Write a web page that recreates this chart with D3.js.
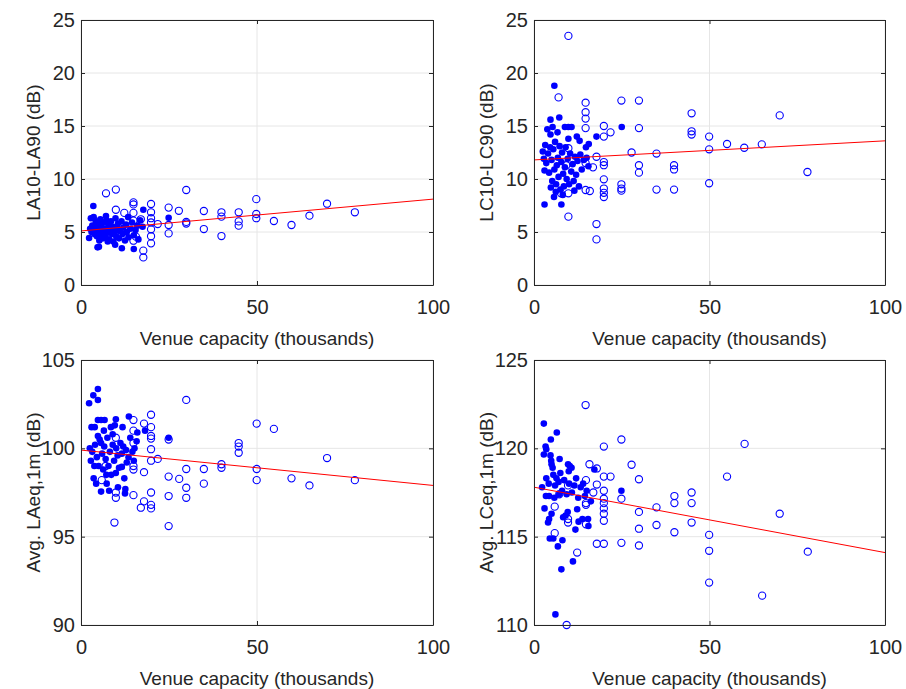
<!DOCTYPE html>
<html>
<head>
<meta charset="utf-8">
<script src="https://cdn.jsdelivr.net/npm/d3@7"></script>
<style>
  body { margin: 0; background: #fff; }
  svg text { font-family: Arial, "Liberation Sans", Helvetica, sans-serif; fill: #262626; }
</style>
</head>
<body>
<div id="vis"></div>
<script>
// x = venue capacity (thousands), y = level spread / average level (dB)
var xTicks = [0, 50, 100];

// LA10-LA90
var filledLA = [[3.5,7.45],[2.8,6.3],[2.3,4.43],[4.7,3.55],[11.6,3.46],[15,3.4],[17.7,7.1],[24.9,6.35],[3,5.0],[3.2,5.6],[3.8,4.8],[4.0,5.3],[4.2,6.0],[4.5,4.6],[4.8,5.8],[5.0,5.1],[5.2,4.2],[5.5,6.2],[5.8,5.5],[6.0,4.9],[6.2,4.4],[6.5,5.9],[6.8,5.3],[7.0,4.7],[7.2,6.1],[7.5,5.0],[7.8,5.6],[8.0,4.3],[8.2,5.2],[8.5,6.0],[8.8,4.8],[9.0,5.5],[9.2,4.1],[9.5,5.0],[9.8,6.3],[10.0,4.6],[10.2,5.4],[10.5,5.8],[10.8,4.4],[11.0,5.1],[11.5,6.0],[11.8,4.8],[12.0,5.4],[12.5,4.2],[12.8,5.7],[13.0,5.0],[13.5,4.5],[14.0,5.3],[14.5,5.9],[15.0,4.7],[15.5,5.2],[16.0,5.6],[16.3,4.3],[16.8,6.1],[3.6,6.4],[4.4,5.5],[5.6,4.5],[6.4,5.0],[7.6,4.1],[2.6,5.3],[5.1,3.6],[9.7,3.8],[13.4,6.4],[7.1,6.5],[17.5,5.5]];
var openLA = [[7.1,8.65],[9.9,9.0],[9.9,7.1],[12.3,6.8],[14.9,7.6],[14.9,7.8],[14.9,6.8],[14.9,6.07],[15.6,4.56],[14.9,4.18],[17,6.2],[17.7,3.24],[17.7,2.6],[19.9,7.64],[19.9,6.86],[19.9,6.3],[19.9,5.9],[19.9,5.25],[19.9,4.6],[19.9,3.93],[21.8,5.75],[24.9,7.3],[24.9,5.66],[24.9,4.87],[27.8,7.0],[29.9,8.96],[29.9,5.8],[29.9,5.95],[34.9,6.98],[34.9,5.28],[39.9,6.86],[39.9,6.45],[39.9,4.62],[44.8,6.86],[44.8,6.0],[44.8,5.6],[49.8,8.1],[49.8,6.7],[49.8,6.3],[54.8,6.04],[59.8,5.66],[64.9,6.54],[69.9,7.67],[77.8,6.86]];
var fitLA = [5.1, 8.1];

// LC10-LC90
var filledLC = [[5.8,18.8],[3.0,7.6],[7.8,7.6],[5.7,8.3],[25.0,14.9],[17.8,14.0],[15.6,13.3],[4.7,15.6],[7.2,15.8],[3.8,14.7],[4.7,14.2],[6.7,14.4],[8.8,14.9],[9.8,14.9],[10.7,14.9],[9.8,13.8],[12.2,14.0],[2.5,12.6],[3.2,13.2],[3.5,11.5],[4.0,12.4],[4.3,10.6],[4.6,13.0],[5.0,11.8],[5.2,9.8],[5.5,12.8],[5.8,10.9],[6.0,13.5],[6.3,9.5],[6.5,11.3],[6.8,12.0],[7.0,10.2],[7.3,13.1],[7.5,9.0],[7.8,11.6],[8.0,12.5],[8.3,10.5],[8.5,9.3],[8.8,11.1],[9.0,13.0],[9.3,10.0],[9.6,11.9],[10.0,9.5],[10.3,12.4],[10.6,10.7],[11.0,11.4],[11.3,9.8],[11.7,12.1],[12.0,10.4],[12.4,11.7],[12.8,9.3],[13.2,12.3],[13.6,10.9],[14.2,11.8],[15.0,12.0],[15.5,11.2],[14.8,13.0],[3.0,10.8],[4.8,9.2],[6.2,8.8],[8.2,8.5],[11.5,8.9],[13.0,13.6],[2.8,11.9],[5.3,14.9]];
var openLC = [[9.8,23.5],[7.0,17.7],[14.7,17.2],[14.7,16.3],[14.7,15.7],[14.7,14.8],[9.8,12.9],[14.7,11.5],[14.7,8.96],[15.9,8.87],[9.8,8.65],[7.7,8.65],[9.8,6.45],[9.2,11.3],[17.8,12.1],[16.8,11.1],[17.8,5.75],[17.8,4.3],[19.9,15.0],[19.9,14.0],[21.8,14.4],[19.9,11.6],[19.9,11.3],[19.9,9.97],[19.9,9.1],[19.9,8.7],[19.9,8.3],[24.9,17.4],[24.9,9.5],[24.9,9.1],[24.9,8.9],[27.8,12.5],[29.9,17.4],[29.9,14.8],[29.9,11.3],[29.9,10.6],[34.9,12.4],[34.9,9.0],[39.9,11.3],[39.9,10.9],[39.9,9.0],[44.9,16.2],[44.9,14.5],[44.9,14.2],[49.9,14.0],[49.9,12.8],[49.9,9.6],[55,13.3],[59.9,12.95],[64.9,13.27],[70,16.0],[77.9,10.66]];
var fitLC = [11.8, 13.6];

// Avg. LAeq,1m
var filledLAeq = [[4.8,103.36],[3.5,103.0],[4.8,102.74],[2.3,102.55],[3,101.2],[3.9,101.2],[4.8,101.6],[5.7,101.6],[6.7,101.6],[9.9,101.65],[13.6,101.8],[11.8,101.2],[8.5,101.2],[9,100.8],[18.2,101.0],[24.9,100.6],[15.8,100.4],[4.8,100.7],[5.7,100.3],[2.8,99.3],[3.6,98.3],[4.3,98.0],[5.7,97.55],[7.3,98.0],[12.5,97.45],[12.6,97.7],[9.9,98.6],[12.3,98.3],[11.6,98.95],[13,99.2],[2.5,100.0],[3.2,99.8],[4.0,100.2],[4.5,99.5],[5.0,99.0],[5.3,100.5],[6.0,99.7],[6.3,98.8],[6.6,100.1],[7.0,99.4],[7.5,100.6],[7.8,99.0],[8.2,99.8],[8.6,98.5],[9.0,100.2],[9.4,99.3],[10.0,100.0],[10.4,99.6],[10.8,98.9],[11.2,100.3],[11.6,99.7],[12.0,100.1],[12.8,99.9],[13.5,99.5],[14.0,100.6],[14.6,99.8],[15.2,100.0],[16.0,100.9],[6.5,101.0],[3.8,99.0],[8.0,97.6],[10.5,97.8],[15.0,99.3],[9.6,101.3],[7.2,98.5]];
var openLAeq = [[29.9,102.74],[19.9,101.9],[14.9,101.6],[17.9,101.4],[19.9,101.2],[19.9,100.7],[14.9,101.0],[9.9,100.6],[19.9,100.55],[24.9,100.5],[14.9,100.3],[19.9,99.95],[21.8,99.4],[19.9,99.3],[14.9,99.0],[14.9,98.8],[7,99.0],[29.9,98.83],[34.9,98.83],[39.9,99.1],[39.9,98.9],[17.9,98.65],[24.9,98.4],[27.9,98.27],[34.9,98.0],[29.9,97.77],[19.9,97.5],[9.9,97.5],[9.9,97.2],[14.9,97.35],[24.9,97.3],[29.9,97.2],[17.9,97.0],[17,96.64],[19.9,96.8],[19.9,96.6],[9.5,95.8],[24.9,95.6],[5.9,98.2],[44.8,100.3],[44.8,100.1],[44.8,99.75],[49.9,101.4],[54.8,101.1],[49.9,98.83],[49.9,98.2],[59.8,98.3],[64.9,97.9],[69.9,99.45],[77.8,98.2]];
var fitLAeq = [99.9, 97.9];

// Avg. LCeq,1m
var filledLCeq = [[2.8,121.4],[6.5,120.9],[4.8,120.5],[3.3,120.1],[3.5,119.95],[2.8,119.65],[4.7,119.6],[4.9,119.3],[5.0,119.1],[5.3,118.9],[9.7,119.1],[10.2,119.0],[10.7,118.9],[9.9,118.7],[2.3,117.8],[24.9,117.6],[3.4,117.3],[4.3,117.3],[4.3,116.0],[4.0,115.8],[8.3,116.1],[9.0,116.2],[12.3,116.55],[12.7,115.85],[15.4,116.0],[4.5,114.9],[5.5,114.9],[8.1,114.8],[6.8,114.45],[11.1,113.6],[7.8,113.15],[6.1,110.6],[3.5,118.3],[4.2,118.0],[5.5,118.5],[6.0,117.9],[6.4,118.3],[7.0,118.1],[7.5,118.6],[8.0,117.6],[8.6,118.2],[9.3,117.4],[10.0,118.0],[10.8,117.5],[11.5,117.9],[12.0,118.3],[12.6,117.2],[13.3,117.8],[14.0,118.0],[14.5,117.3],[15.0,117.6],[16.2,117.0],[5.8,117.2],[7.2,117.4],[9.6,116.4],[13.8,116.0],[15.5,115.6],[5.0,116.3],[11.8,115.4],[3.0,116.6],[17.2,118.8],[7.3,119.4]];
var openLCeq = [[14.7,122.45],[24.9,120.5],[19.9,120.1],[27.8,119.07],[15.8,119.1],[17.9,118.86],[19.9,118.4],[21.8,118.4],[29.9,118.25],[14.8,118.2],[17.9,117.95],[16.9,117.5],[19.9,117.6],[24.9,117.15],[19.9,117.15],[19.9,116.9],[19.9,116.6],[19.9,116.3],[19.9,115.9],[14.8,116.9],[14.8,116.8],[14.8,115.7],[9.7,117.9],[9.7,116.0],[9.7,115.8],[7.2,117.4],[5.9,116.7],[5.9,115.2],[12.3,114.1],[17.9,114.6],[19.9,114.6],[24.9,114.65],[29.9,116.4],[29.9,115.45],[29.9,114.5],[34.9,116.66],[34.9,115.66],[40,117.3],[40,116.9],[40,115.25],[44.9,117.5],[44.9,116.9],[44.9,115.8],[49.9,115.1],[49.9,114.2],[49.9,112.4],[9.3,110.0],[55,118.4],[60,120.25],[65,111.66],[70,116.3],[78,114.15]];
var fitLCeq = [117.8, 114.1];

var width = 906;
var height = 689;
var svgElement;

function main() {
    svgElement = d3.select('#vis').append('svg')
        .attr('width', width)
        .attr('height', height);

    drawPanel({ left: 81, top: 20, w: 352, h: 265 }, [0, 25], [0, 5, 10, 15, 20, 25], 'LA10-LA90 (dB)', filledLA, openLA, fitLA);
    drawPanel({ left: 534, top: 20, w: 351, h: 265 }, [0, 25], [0, 5, 10, 15, 20, 25], 'LC10-LC90 (dB)', filledLC, openLC, fitLC);
    drawPanel({ left: 81, top: 360, w: 352, h: 265 }, [90, 105], [90, 95, 100, 105], 'Avg. LAeq,1m (dB)', filledLAeq, openLAeq, fitLAeq);
    drawPanel({ left: 534, top: 360, w: 351, h: 265 }, [110, 125], [110, 115, 120, 125], 'Avg. LCeq,1m (dB)', filledLCeq, openLCeq, fitLCeq);
}

function drawPanel(box, yDomain, yTicks, yLabel, filled, open, fit) {
    var x = d3.scaleLinear().domain([0, 100]).range([0, box.w]);
    var y = d3.scaleLinear().domain(yDomain).range([box.h, 0]);
    var g = svgElement.append('g').attr('transform', 'translate(' + box.left + ',' + box.top + ')');

    // grid
    g.append('g').selectAll('line.gx').data(xTicks).enter().append('line')
        .attr('x1', d => x(d)).attr('x2', d => x(d))
        .attr('y1', 0).attr('y2', box.h)
        .attr('stroke', '#e6e6e6').attr('stroke-width', 1);
    g.append('g').selectAll('line.gy').data(yTicks).enter().append('line')
        .attr('x1', 0).attr('x2', box.w)
        .attr('y1', d => y(d)).attr('y2', d => y(d))
        .attr('stroke', '#e6e6e6').attr('stroke-width', 1);

    // points
    g.append('g').selectAll('circle.f').data(filled).enter().append('circle')
        .attr('cx', d => x(d[0])).attr('cy', d => y(d[1]))
        .attr('r', 3.3).attr('fill', '#0000ff');
    g.append('g').selectAll('circle.o').data(open).enter().append('circle')
        .attr('cx', d => x(d[0])).attr('cy', d => y(d[1]))
        .attr('r', 3.6).attr('fill', 'none')
        .attr('stroke', '#0000ff').attr('stroke-width', 1.1);

    // fit line
    g.append('line')
        .attr('x1', x(0)).attr('y1', y(fit[0]))
        .attr('x2', x(100)).attr('y2', y(fit[1]))
        .attr('stroke', '#ff0000').attr('stroke-width', 1);

    // axes, ticks inward on all four sides
    var bottom = g.append('g').attr('transform', 'translate(0,' + box.h + ')')
        .call(d3.axisBottom(x).tickValues(xTicks).tickSizeInner(-4).tickSizeOuter(0).tickPadding(15));
    var top = g.append('g')
        .call(d3.axisTop(x).tickValues(xTicks).tickSizeInner(-4).tickSizeOuter(0).tickFormat(''));
    var left = g.append('g')
        .call(d3.axisLeft(y).tickValues(yTicks).tickSizeInner(-4).tickSizeOuter(0).tickPadding(6));
    var right = g.append('g').attr('transform', 'translate(' + box.w + ',0)')
        .call(d3.axisRight(y).tickValues(yTicks).tickSizeInner(-4).tickSizeOuter(0).tickFormat(''));
    [bottom, top, left, right].forEach(function (a) {
        a.selectAll('.domain').attr('stroke', '#262626');
        a.selectAll('.tick line').attr('stroke', '#262626');
        a.selectAll('text').style('font-size', '20px').attr('fill', '#262626')
            .style('font-family', 'Arial, "Liberation Sans", sans-serif');
    });

    g.append('text')
        .attr('x', box.w / 2).attr('y', box.h + 60)
        .attr('text-anchor', 'middle').style('font-size', '19px')
        .text('Venue capacity (thousands)');
    g.append('text')
        .attr('transform', 'translate(-41,' + box.h / 2 + ') rotate(-90)')
        .attr('text-anchor', 'middle').style('font-size', '19px')
        .text(yLabel);
}

main();
</script>
</body>
</html>
